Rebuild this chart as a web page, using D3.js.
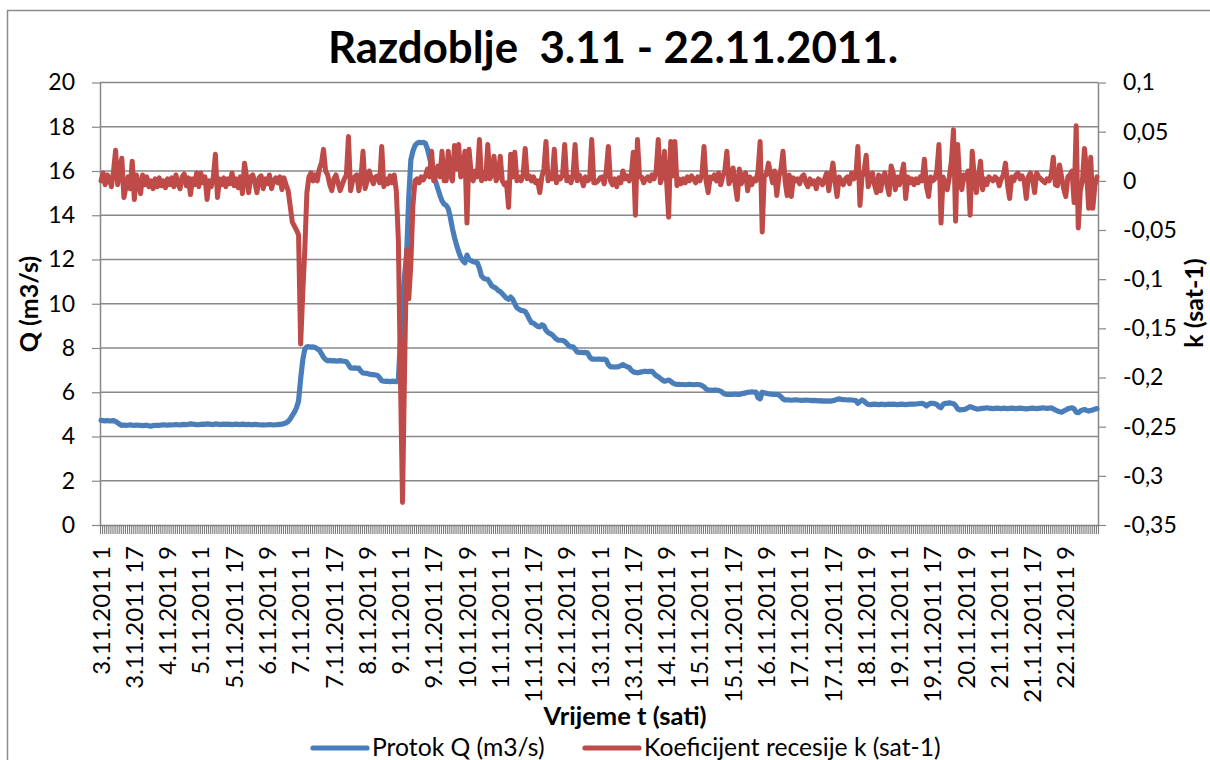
<!DOCTYPE html>
<html><head><meta charset="utf-8">
<script src="https://cdn.jsdelivr.net/npm/d3@7/dist/d3.min.js"></script>
<style>
body{margin:0;background:#fff}
svg{display:block}
text{font-family:Lato,'Open Sans',sans-serif;fill:#000}
</style></head>
<body><svg id="chart" width="1210" height="760"></svg>
<script>
// ---------------- DATA ----------------
const days = [3,4,5,6,7,8,9,10,11,12,13,14,15,16,17,18,19,20,21,22];
const hours = [1,2,3,4,5,6,7,8,9,10,11,12,13,14,15,16,17,18,19,20,21,22,23,24];
const categories = days.flatMap(d => hours.map(h => d + ".11.2011 " + h));

const tickLabels = ["3.11.2011 1","3.11.2011 17","4.11.2011 9","5.11.2011 1","5.11.2011 17","6.11.2011 9",
  "7.11.2011 1","7.11.2011 17","8.11.2011 9","9.11.2011 1","9.11.2011 17","10.11.2011 9",
  "11.11.2011 1","11.11.2011 17","12.11.2011 9","13.11.2011 1","13.11.2011 17","14.11.2011 9",
  "15.11.2011 1","15.11.2011 17","16.11.2011 9","17.11.2011 1","17.11.2011 17","18.11.2011 9",
  "19.11.2011 1","19.11.2011 17","20.11.2011 9","21.11.2011 1","21.11.2011 17","22.11.2011 9"];

const qTicks = [0,2,4,6,8,10,12,14,16,18,20];
const kTicks = [0.1,0.05,0,-0.05,-0.1,-0.15,-0.2,-0.25,-0.3,-0.35];

// Protok Q (m3/s), hourly
const qValues = [
4.73,4.72,4.71,4.72,4.70,4.71,4.72,4.68,4.62,4.55,4.50,4.52,4.50,4.51,4.53,4.51,4.50,4.52,4.51,
4.50,4.49,4.50,4.51,4.48,4.47,4.49,4.50,4.51,4.50,4.52,4.53,4.52,4.51,4.53,4.52,4.53,4.54,4.53,4.52,
4.54,4.55,4.54,4.55,4.57,4.56,4.55,4.53,4.54,4.55,4.56,4.55,4.57,4.56,4.55,4.54,4.57,4.56,4.54,4.55,
4.56,4.55,4.56,4.55,4.54,4.55,4.56,4.55,4.54,4.56,4.55,4.54,4.55,4.53,4.54,4.55,4.54,4.53,4.52,4.53,
4.52,4.53,4.54,4.53,4.52,4.53,4.54,4.55,4.56,4.58,4.62,4.68,4.80,4.95,5.10,5.30,5.60,6.60,7.45,7.95,
8.05,8.06,8.04,8.05,8.02,7.96,7.90,7.75,7.58,7.48,7.42,7.44,7.42,7.43,7.41,7.42,7.43,7.41,7.40,7.38,
7.25,7.10,7.09,7.10,7.08,7.09,6.95,6.87,6.86,6.85,6.82,6.80,6.80,6.78,6.76,6.65,6.52,6.50,6.49,6.50,
6.48,6.50,6.49,6.48,6.55,8.40,10.0,11.3,12.3,14.8,16.5,16.9,17.15,17.25,17.3,17.28,17.3,17.25,17.0,16.6,
16.2,15.8,15.5,15.2,14.9,14.65,14.5,14.45,14.3,13.9,13.4,13.0,12.65,12.35,12.1,11.95,11.85,12.2,12.0,11.95,
11.9,11.88,11.85,11.6,11.25,11.15,11.12,11.1,10.95,10.8,10.75,10.7,10.6,10.55,10.45,10.35,10.25,10.2,10.3,10.2,
10.0,9.82,9.75,9.7,9.68,9.65,9.5,9.3,9.15,9.12,9.05,8.97,8.95,9.05,9.0,8.8,8.7,8.65,8.6,8.5,
8.4,8.35,8.35,8.34,8.3,8.2,8.1,8.05,8.05,7.95,7.82,7.8,7.8,7.79,7.8,7.78,7.6,7.5,7.5,7.49,
7.5,7.5,7.48,7.5,7.45,7.25,7.15,7.15,7.14,7.15,7.16,7.2,7.25,7.2,7.15,7.12,7.0,6.92,6.9,6.88,6.9,
6.92,6.94,6.95,6.93,6.94,6.95,6.85,6.75,6.7,6.62,6.55,6.5,6.52,6.55,6.5,6.42,6.37,6.35,6.36,6.35,
6.35,6.34,6.35,6.36,6.35,6.34,6.35,6.35,6.34,6.3,6.25,6.15,6.1,6.1,6.09,6.1,6.1,6.08,6.05,5.98,
5.92,5.9,5.9,5.91,5.9,5.92,5.9,5.9,5.93,5.95,5.97,6.0,6.0,6.02,6.0,6.01,5.75,5.7,6.0,5.98,
5.95,5.93,5.92,5.9,5.9,5.9,5.88,5.8,5.7,5.65,5.66,5.65,5.64,5.65,5.66,5.65,5.64,5.63,5.64,5.65,
5.64,5.63,5.62,5.63,5.62,5.61,5.62,5.6,5.61,5.6,5.61,5.6,5.62,5.64,5.68,5.7,5.68,5.67,5.66,5.65,
5.66,5.65,5.64,5.62,5.5,5.58,5.65,5.6,5.5,5.45,5.44,5.45,5.46,5.45,5.44,5.46,5.45,5.44,5.45,5.46,
5.45,5.46,5.45,5.44,5.45,5.46,5.45,5.44,5.45,5.46,5.47,5.46,5.47,5.48,5.49,5.5,5.45,5.38,5.45,5.5,
5.5,5.48,5.45,5.35,5.3,5.45,5.5,5.5,5.52,5.5,5.48,5.4,5.25,5.2,5.22,5.21,5.25,5.3,5.35,5.32,
5.28,5.25,5.24,5.26,5.27,5.28,5.3,5.28,5.27,5.26,5.27,5.28,5.27,5.26,5.28,5.27,5.26,5.27,5.28,5.27,
5.26,5.27,5.28,5.27,5.26,5.25,5.26,5.27,5.28,5.27,5.26,5.27,5.28,5.3,5.28,5.27,5.28,5.3,5.25,5.2,
5.15,5.12,5.1,5.15,5.2,5.25,5.28,5.3,5.25,5.1,5.08,5.15,5.2,5.22,5.18,5.15,5.18,5.2,5.24,5.26
];

// Koeficijent recesije k (sat-1), hourly
const kValues = [
0.0,0.008,-0.004,0.006,0.002,-0.006,0.01,0.031,-0.004,0.012,0.023,-0.017,-0.006,0.004,-0.008,0.02,-0.019,0.006,-0.002,
-0.013,0.006,-0.004,0.004,-0.006,0.0,-0.008,0.002,-0.006,0.003,-0.005,0.0,-0.007,0.002,-0.004,0.003,-0.006,0.006,-0.003,-0.008,
0.004,0.007,-0.005,0.003,-0.014,0.002,-0.004,0.008,-0.006,0.008,-0.002,0.004,-0.019,0.0,-0.006,0.004,0.027,-0.017,0.002,-0.004,
0.003,-0.006,0.002,-0.003,0.008,-0.005,0.002,-0.007,0.004,-0.013,0.018,0.004,-0.012,0.004,0.006,-0.002,-0.012,0.003,0.005,-0.008,
0.002,-0.003,0.006,-0.008,0.0,0.003,-0.002,0.004,-0.009,0.003,-0.004,-0.01,-0.026,-0.042,-0.046,-0.05,-0.055,-0.166,-0.115,-0.07,
-0.012,0.004,0.008,0.0,0.006,0.0,0.012,0.018,0.032,0.01,0.006,-0.004,-0.01,0.002,0.006,-0.002,-0.01,-0.004,0.002,0.006,
0.045,-0.01,0.0,0.004,0.006,-0.01,0.003,0.03,-0.008,0.0,0.01,0.002,-0.003,0.004,0.005,-0.002,0.035,-0.006,0.002,-0.003,
0.005,-0.002,0.006,-0.01,-0.06,-0.2,-0.327,-0.19,-0.07,-0.12,-0.085,-0.025,0.0,0.002,-0.002,0.004,0.001,0.005,0.012,0.004,
0.03,0.0,0.006,0.015,0.004,0.03,0.0,0.0,0.03,0.006,0.0,0.036,0.012,0.037,0.004,0.01,0.03,-0.043,0.032,0.008,
0.0,0.01,0.004,0.042,0.0,0.008,0.002,0.037,0.002,0.006,0.025,0.0,0.004,0.025,0.0,-0.004,-0.002,-0.027,0.027,0.004,
0.029,0.0,0.004,0.0,0.006,0.033,0.002,0.005,0.0,0.004,-0.002,0.0,-0.012,0.004,0.012,0.04,0.0,0.006,0.002,0.032,
-0.002,0.004,0.002,0.006,0.037,0.0,0.004,-0.002,0.006,0.037,0.0,0.006,0.002,-0.005,0.004,0.0,0.002,0.042,-0.002,-0.002,
0.0,0.003,0.004,-0.003,0.01,0.035,0.0,-0.004,0.002,-0.006,0.003,-0.002,0.01,0.002,0.005,0.0,0.006,0.029,-0.035,0.042,0.004,
0.004,-0.002,0.002,0.004,0.0,0.006,0.002,0.01,0.042,-0.002,0.004,0.03,0.0,-0.037,0.04,0.005,0.04,-0.005,0.002,-0.003,
0.002,-0.002,0.004,0.0,0.005,0.002,-0.002,0.004,0.0,0.006,0.035,0.0,-0.012,0.004,0.002,0.006,0.0,0.008,-0.004,0.004,
0.01,0.03,-0.003,0.002,0.013,-0.004,-0.019,0.012,-0.003,0.006,0.008,-0.01,0.004,-0.004,0.002,0.0,0.01,0.04,-0.052,0.006,
0.006,0.018,0.008,-0.002,0.01,-0.015,0.004,0.012,0.03,0.0,-0.015,0.006,-0.016,0.003,0.0,0.002,-0.003,0.004,0.006,-0.002,
-0.006,0.002,-0.003,0.0,-0.008,0.002,0.0,-0.004,0.002,0.008,-0.01,0.004,0.018,0.0,-0.016,0.004,0.0,-0.004,0.002,0.004,
-0.003,0.008,0.002,0.004,0.035,-0.025,0.004,0.01,0.026,-0.006,0.002,0.008,-0.004,-0.012,0.006,-0.01,0.004,0.008,-0.004,-0.014,
0.015,0.008,-0.009,0.004,-0.004,0.006,0.017,-0.018,0.004,-0.002,0.002,-0.004,0.002,-0.002,0.004,0.0,0.022,-0.006,-0.016,0.004,
0.0,0.002,0.01,0.037,-0.043,0.004,-0.004,-0.009,0.004,0.02,0.052,-0.041,0.037,0.0,-0.009,0.006,0.002,0.01,-0.035,0.03,
0.004,-0.012,0.004,0.02,-0.009,0.002,-0.004,0.004,0.002,0.0,0.004,0.002,-0.005,0.002,0.006,0.018,-0.004,-0.018,0.004,0.0,
0.006,0.008,0.002,0.005,0.0,-0.018,0.004,0.008,0.002,-0.012,0.008,0.004,0.002,0.0,-0.002,0.002,0.0,0.006,0.024,-0.004,
-0.005,0.016,0.004,-0.008,-0.016,0.004,0.006,0.01,-0.022,0.056,-0.048,-0.01,0.0,0.033,0.01,-0.028,0.024,-0.028,-0.005,0.004
];

const seriesNames = ["Protok Q (m3/s)", "Koeficijent recesije k (sat-1)"];
const seriesColors = ["#4A7EBB", "#BE4B48"];

// ---------------- CHART ----------------
const svg = d3.select("#chart");
const L = 100, R = 1098, T = 82.5, B = 525;
const gridColor = "#888888";

svg.append("rect").attr("x",7.5).attr("y",10.5).attr("width",1220).attr("height",770)
  .attr("fill","none").attr("stroke","#8c8c8c").attr("stroke-width",1.5);

const x = d3.scaleBand().domain(categories).range([L,R]).padding(0);
const cx = c => x(c) + x.bandwidth()/2;
const yQ = d3.scaleLinear().domain([0,20]).range([B,T]);
const yK = d3.scaleLinear().domain([-0.35,0.1]).range([B,T]);

// gridlines
svg.append("g").selectAll("line").data(qTicks.filter(v=>v>0)).join("line")
  .attr("x1",L).attr("x2",R).attr("y1",d=>yQ(d)).attr("y2",d=>yQ(d))
  .attr("stroke",gridColor).attr("stroke-width",1.4);

const fmtK = v => String(+v.toFixed(2)).replace(".", ",");

// left axis
const gl = svg.append("g").attr("transform",`translate(${L},0)`)
  .call(d3.axisLeft(yQ).tickValues(qTicks).tickSize(8).tickSizeOuter(0).tickPadding(17));
// right axis
const gr = svg.append("g").attr("transform",`translate(${R},0)`)
  .call(d3.axisRight(yK).tickValues(kTicks).tickFormat(fmtK).tickSize(8).tickSizeOuter(0).tickPadding(17));
// bottom category ticks
const xi = d3.scaleLinear().domain([0,categories.length]).range([L,R]);
const gb = svg.append("g").attr("transform",`translate(0,${B})`)
  .call(d3.axisBottom(xi).tickValues(d3.range(categories.length+1)).tickSize(9).tickSizeOuter(0).tickFormat(""));

[gl,gr,gb].forEach(g=>{
  g.selectAll("path.domain").attr("stroke",gridColor).attr("stroke-width",1.5);
  g.selectAll(".tick line").attr("stroke",gridColor).attr("stroke-width",1.2);
  g.selectAll(".tick text").attr("font-family","Lato, sans-serif").attr("font-size",23).attr("fill","#000");
});
gb.selectAll(".tick line").attr("stroke","#7a7a7a").attr("stroke-width",1.1);

// x labels
svg.append("g").selectAll("text").data(tickLabels).join("text")
  .attr("transform", d => `translate(${cx(d)},546) rotate(-90)`)
  .attr("text-anchor","end").attr("dy","0.36em")
  .attr("font-size",24).text(d=>d);

// lines
const lineQ = d3.line().x((d,i)=>cx(categories[i])).y(d=>yQ(d));
const lineK = d3.line().x((d,i)=>cx(categories[i])).y(d=>yK(d));
svg.append("path").datum(qValues).attr("d",lineQ).attr("fill","none")
  .attr("stroke",seriesColors[0]).attr("stroke-width",5.2).attr("stroke-linejoin","round").attr("stroke-linecap","round");
svg.append("path").datum(kValues).attr("d",lineK).attr("fill","none")
  .attr("stroke",seriesColors[1]).attr("stroke-width",5).attr("stroke-linejoin","round").attr("stroke-linecap","round");

// title
svg.append("text").attr("x",613).attr("y",63).attr("text-anchor","middle")
  .attr("font-size",43.8).attr("font-weight","bold").style("white-space","pre")
  .text("Razdoblje  3.11 - 22.11.2011.");

// axis titles
svg.append("text").attr("transform","translate(29,304) rotate(-90)").attr("text-anchor","middle")
  .attr("dy","0.36em").attr("font-size",25).attr("font-weight","bold").text("Q (m3/s)");
svg.append("text").attr("transform","translate(1194,303) rotate(-90)").attr("text-anchor","middle")
  .attr("dy","0.36em").attr("font-size",25).attr("font-weight","bold").text("k (sat-1)");
svg.append("text").attr("x",625).attr("y",725).attr("text-anchor","middle")
  .attr("font-size",25.5).attr("font-weight","bold").text("Vrijeme t (sati)");

// legend
const legendX = [313, 585];
const lg = svg.append("g").selectAll("g").data(seriesNames).join("g");
lg.append("line").attr("x1",(d,i)=>legendX[i]).attr("x2",(d,i)=>legendX[i]+54)
  .attr("y1",748).attr("y2",748).attr("stroke",(d,i)=>seriesColors[i])
  .attr("stroke-width",5.2).attr("stroke-linecap","round");
lg.append("text").attr("x",(d,i)=>legendX[i]+59).attr("y",756)
  .attr("font-size",24.7).text(d=>d);
</script>
</body></html>
